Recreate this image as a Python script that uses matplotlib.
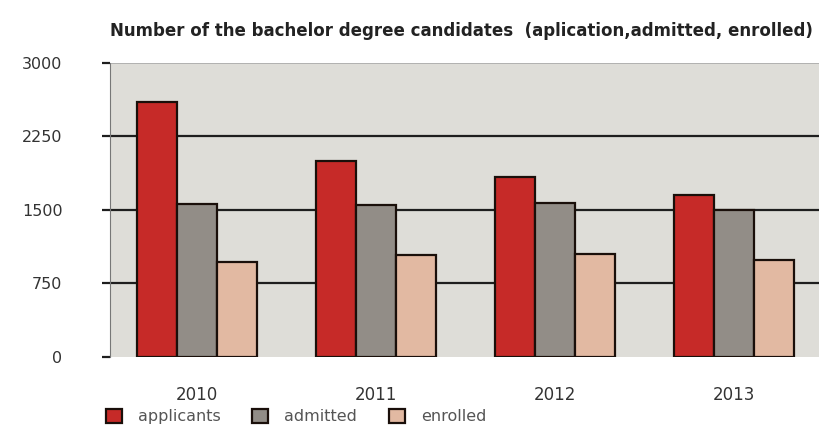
import numpy as np
import matplotlib
matplotlib.use("Agg")
import matplotlib.pyplot as plt

years = ["2010", "2011", "2012", "2013"]
applicants = [2600, 2000, 1840, 1650]
admitted = [1560, 1550, 1575, 1500]
enrolled = [970, 1040, 1050, 990]

series = [
    ("applicants", applicants, "#c62a28"),
    ("admitted", admitted, "#928d87"),
    ("enrolled", enrolled, "#e2b9a2"),
]

plt.rcParams["font.family"] = ["DejaVu Sans"]

fig = plt.figure(figsize=(8.19, 4.25), dpi=100)
ax = fig.add_axes([0.134, 0.16, 0.866, 0.692])
ax.set_facecolor("#deddd8")

x = np.arange(len(years))
w = 0.223
for i, (name, vals, col) in enumerate(series):
    ax.bar(x + (i - 1) * w, vals, w, color=col, edgecolor="#1a0f0a",
           linewidth=1.6, label=name, zorder=3)

ax.set_ylim(0, 3000)
ax.set_xlim(-0.487, 3.475)
ax.set_yticks([0, 750, 1500, 2250, 3000])
ax.set_xticks(x)
ax.set_xticklabels(years)
for yv in [750, 1500, 2250]:
    ax.axhline(yv, color="#1e1e1e", linewidth=1.6, zorder=1)
ax.axhline(3000, color="#aaaaaa", linewidth=1.2, zorder=1)

for s in ["top", "right", "bottom"]:
    ax.spines[s].set_visible(False)
ax.spines["left"].set_color("#777777")
ax.spines["left"].set_linewidth(0.8)

ax.tick_params(axis="y", length=6, width=1.6, color="#1e1e1e", pad=28,
               labelsize=11.5, labelcolor="#333333")
ax.tick_params(axis="x", length=0, pad=21, labelsize=12, labelcolor="#333333")

fig.text(0.563, 0.928, "Number of the bachelor degree candidates  (aplication,admitted, enrolled)",
         ha="center", va="center", fontsize=12, fontweight="bold",
         color="#222222")

fig.legend(loc="center left", bbox_to_anchor=(0.127, 0.02), ncol=3,
           frameon=False, fontsize=11.5, handlelength=1.0, handleheight=1.0,
           columnspacing=2.0, handletextpad=1.0, labelcolor="#555555",
           borderaxespad=0.0, borderpad=0.1)

fig.savefig("out.png", dpi=100)
